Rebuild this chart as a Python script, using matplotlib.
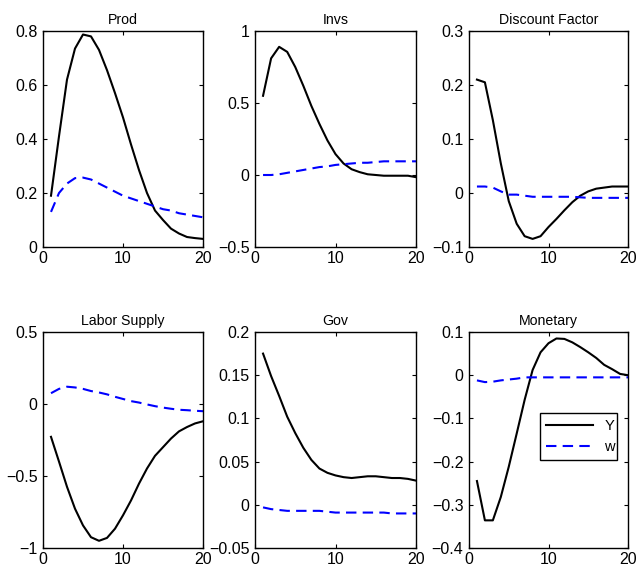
import numpy as np
import matplotlib
matplotlib.use("Agg")
import matplotlib.pyplot as plt

plt.rcParams.update({
    "font.family": ["Liberation Sans", "DejaVu Sans"],
    "font.size": 11.5,
    "axes.linewidth": 1.0,
    "xtick.direction": "in",
    "ytick.direction": "in",
    "xtick.top": True,
    "ytick.right": True,
    "xtick.major.size": 3,
    "ytick.major.size": 3,
    "xtick.major.pad": 3,
    "ytick.major.pad": 4,
    "axes.titlesize": 10.2,
})

t = np.arange(1, 21)

titles = ["Prod", "Invs", "Discount Factor", "Labor Supply", "Gov", "Monetary"]

prod_y = [0.19, 0.41, 0.62, 0.735, 0.787, 0.78, 0.73, 0.655, 0.57, 0.48,
          0.38, 0.285, 0.20, 0.135, 0.10, 0.068, 0.05, 0.037, 0.033, 0.03]
prod_w = [0.13, 0.2, 0.235, 0.255, 0.257, 0.25, 0.235, 0.22, 0.205, 0.19,
          0.18, 0.17, 0.16, 0.15, 0.14, 0.135, 0.125, 0.12, 0.115, 0.11]

invs_y = [0.55, 0.81, 0.89, 0.855, 0.75, 0.62, 0.48, 0.355, 0.24, 0.145,
          0.08, 0.04, 0.02, 0.005, 0.0, -0.005, -0.005, -0.005, -0.005, -0.015]
invs_w = [0.0, 0.0, 0.005, 0.015, 0.025, 0.035, 0.045, 0.055, 0.06, 0.07,
          0.075, 0.08, 0.085, 0.085, 0.09, 0.095, 0.095, 0.095, 0.095, 0.095]

disc_y = [0.21, 0.205, 0.135, 0.055, -0.015, -0.057, -0.08, -0.085, -0.08, -0.063,
          -0.048, -0.032, -0.017, -0.005, 0.003, 0.008, 0.01, 0.012, 0.012, 0.012]
disc_w = [0.012, 0.012, 0.01, 0.003, -0.003, -0.003, -0.005, -0.007, -0.007, -0.007,
          -0.007, -0.007, -0.007, -0.008, -0.009, -0.009, -0.009, -0.009, -0.009, -0.009]

labor_y = [-0.228, -0.40, -0.575, -0.727, -0.843, -0.925, -0.95, -0.93, -0.866, -0.773,
           -0.67, -0.553, -0.448, -0.36, -0.30, -0.24, -0.19, -0.16, -0.135, -0.12]
labor_w = [0.075, 0.105, 0.12, 0.115, 0.105, 0.09, 0.08, 0.067, 0.05, 0.035,
           0.02, 0.01, -0.003, -0.015, -0.025, -0.033, -0.04, -0.043, -0.047, -0.05]

gov_y = [0.175, 0.149, 0.126, 0.102, 0.083, 0.066, 0.052, 0.042, 0.037, 0.034,
         0.032, 0.031, 0.032, 0.033, 0.033, 0.032, 0.031, 0.031, 0.03, 0.028]
gov_w = [-0.003, -0.005, -0.006, -0.007, -0.007, -0.007, -0.007, -0.007, -0.008, -0.009,
         -0.009, -0.009, -0.009, -0.009, -0.009, -0.009, -0.01, -0.01, -0.01, -0.01]

mon_y = [-0.245, -0.336, -0.336, -0.282, -0.212, -0.135, -0.057, 0.012, 0.053, 0.074,
         0.085, 0.084, 0.076, 0.065, 0.053, 0.04, 0.024, 0.014, 0.003, 0.0]
mon_w = [-0.012, -0.016, -0.015, -0.012, -0.01, -0.008, -0.005, -0.005, -0.005, -0.005,
         -0.005, -0.005, -0.005, -0.005, -0.005, -0.005, -0.005, -0.005, -0.005, -0.005]

Y = [prod_y, invs_y, disc_y, labor_y, gov_y, mon_y]
W = [prod_w, invs_w, disc_w, labor_w, gov_w, mon_w]

ylims = [(0, 0.8), (-0.5, 1), (-0.1, 0.3), (-1, 0.5), (-0.05, 0.2), (-0.4, 0.1)]
yticks = [np.arange(0, 0.81, 0.2), [-0.5, 0, 0.5, 1], [-0.1, 0, 0.1, 0.2, 0.3],
          [-1, -0.5, 0, 0.5], [-0.05, 0, 0.05, 0.1, 0.15, 0.2],
          [-0.4, -0.3, -0.2, -0.1, 0, 0.1]]
yticklabels = [["0", "0.2", "0.4", "0.6", "0.8"],
               ["\u22120.5", "0", "0.5", "1"],
               ["\u22120.1", "0", "0.1", "0.2", "0.3"],
               ["\u22121", "\u22120.5", "0", "0.5"],
               ["\u22120.05", "0", "0.05", "0.1", "0.15", "0.2"],
               ["\u22120.4", "\u22120.3", "\u22120.2", "\u22120.1", "0", "0.1"]]

W_px, H_px = 639, 568
fig = plt.figure(figsize=(W_px / 100, H_px / 100), dpi=100)

lefts = [43, 255, 469]
rights = [203, 416, 628]
tops = [31, 332]
bottoms = [247, 548]

for i in range(6):
    r, c = divmod(i, 3)
    l, rr = lefts[c], rights[c]
    tp, bt = tops[r], bottoms[r]
    ax = fig.add_axes([l / W_px, 1 - bt / H_px, (rr - l) / W_px, (bt - tp) / H_px])
    ax.plot(t, Y[i], color="k", lw=1.5, label="Y")
    ax.plot(t, W[i], color="b", lw=1.5, ls=(0, (5, 3)), label="w")
    ax.set_xlim(0, 20)
    ax.set_ylim(*ylims[i])
    ax.set_xticks([0, 10, 20])
    ax.set_yticks(yticks[i])
    ax.set_yticklabels(yticklabels[i])
    ax.set_title(titles[i], pad=5)
    if i == 5:
        leg = ax.legend(loc="lower left", bbox_to_anchor=(0.447, 0.407, 0.483, 0.246),
                        mode="expand", fancybox=False, edgecolor="k",
                        framealpha=1, handlelength=3.2, borderaxespad=0,
                        fontsize=10.5)
        leg.get_frame().set_linewidth(1.0)

fig.savefig("out.png", dpi=100)
